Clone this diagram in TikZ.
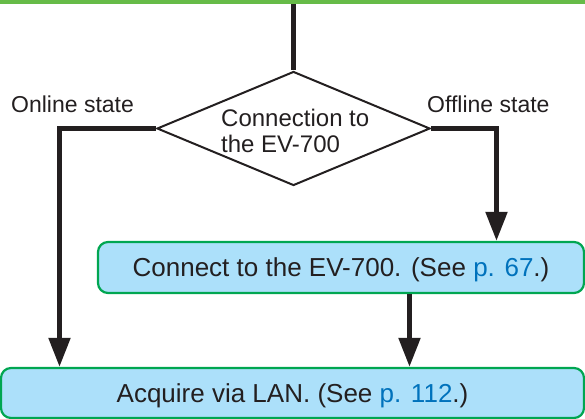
\documentclass[tikz,border=0pt]{standalone}
\usepackage{fontspec}
\setmainfont{Liberation Sans}
\usetikzlibrary{shapes.geometric,arrows.meta}
\definecolor{boxfill}{RGB}{172,224,250}
\definecolor{boxline}{RGB}{0,166,81}
\definecolor{barline}{RGB}{102,187,72}
\definecolor{linkblue}{RGB}{0,114,188}
\definecolor{inkdark}{RGB}{35,31,32}

\begin{document}
\begin{tikzpicture}[x=1pt,y=1pt,yscale=-1,
  flowline/.style={line width=5pt,color=inkdark},
  flowarrow/.style={flowline,-{Triangle[length=29pt,width=21pt]}},
  stepbox/.style={draw=boxline,fill=boxfill,line width=2.2pt,rounded corners=10pt,inner sep=0pt,text height=18.6pt,text depth=0pt,font=\fontsize{26}{30}\selectfont,text=inkdark},
  statelabel/.style={anchor=base west,inner sep=0pt,font=\fontsize{23}{27}\selectfont,text=inkdark}]
\useasboundingbox (0,0) rectangle (585,419);

%Shape: top bar
\fill[barline] (0,0) rectangle (585,4.5);
\coordinate (bar) at (293.5,4.5);

%Shape: Diamond
\node[diamond,draw=inkdark,line width=2pt,minimum width=273pt,minimum height=114pt,inner sep=0pt] (conn) at (293.5,128.5) {};
% Text Node
\node[align=left,anchor=base west,inner sep=0pt,font=\fontsize{24}{26}\selectfont,text=inkdark] (conntext) at (221,153) {Connection to\\the EV-700};

%Shape: Rounded Rectangles
\node[stepbox,minimum width=486pt,minimum height=51pt] (ev) at (341,267.5) {Connect to the EV-700. (See \textcolor{linkblue}{p. 67}.)};
\node[stepbox,minimum width=583pt,minimum height=50pt] (lan) at (292.5,393) {Acquire via LAN. (See \textcolor{linkblue}{p. 112}.)};

% Text Node
\node[statelabel] (online) at (11,113) {Online state};
% Text Node
\node[statelabel] (offline) at (427,113) {Offline state};

%Straight Lines
\coordinate (leftdrop) at (59.5,0);
\coordinate (rightdrop) at (496.5,0);
\coordinate (middrop) at (409.5,0);
\draw[flowline] (bar) -- (conn.north);
\draw[flowarrow] (conn.west) -| (leftdrop |- lan.north);
\draw[flowarrow] (conn.east) -| (rightdrop |- ev.north);
\draw[flowarrow] (middrop |- ev.south) -- (middrop |- lan.north);

\end{tikzpicture}
\end{document}
